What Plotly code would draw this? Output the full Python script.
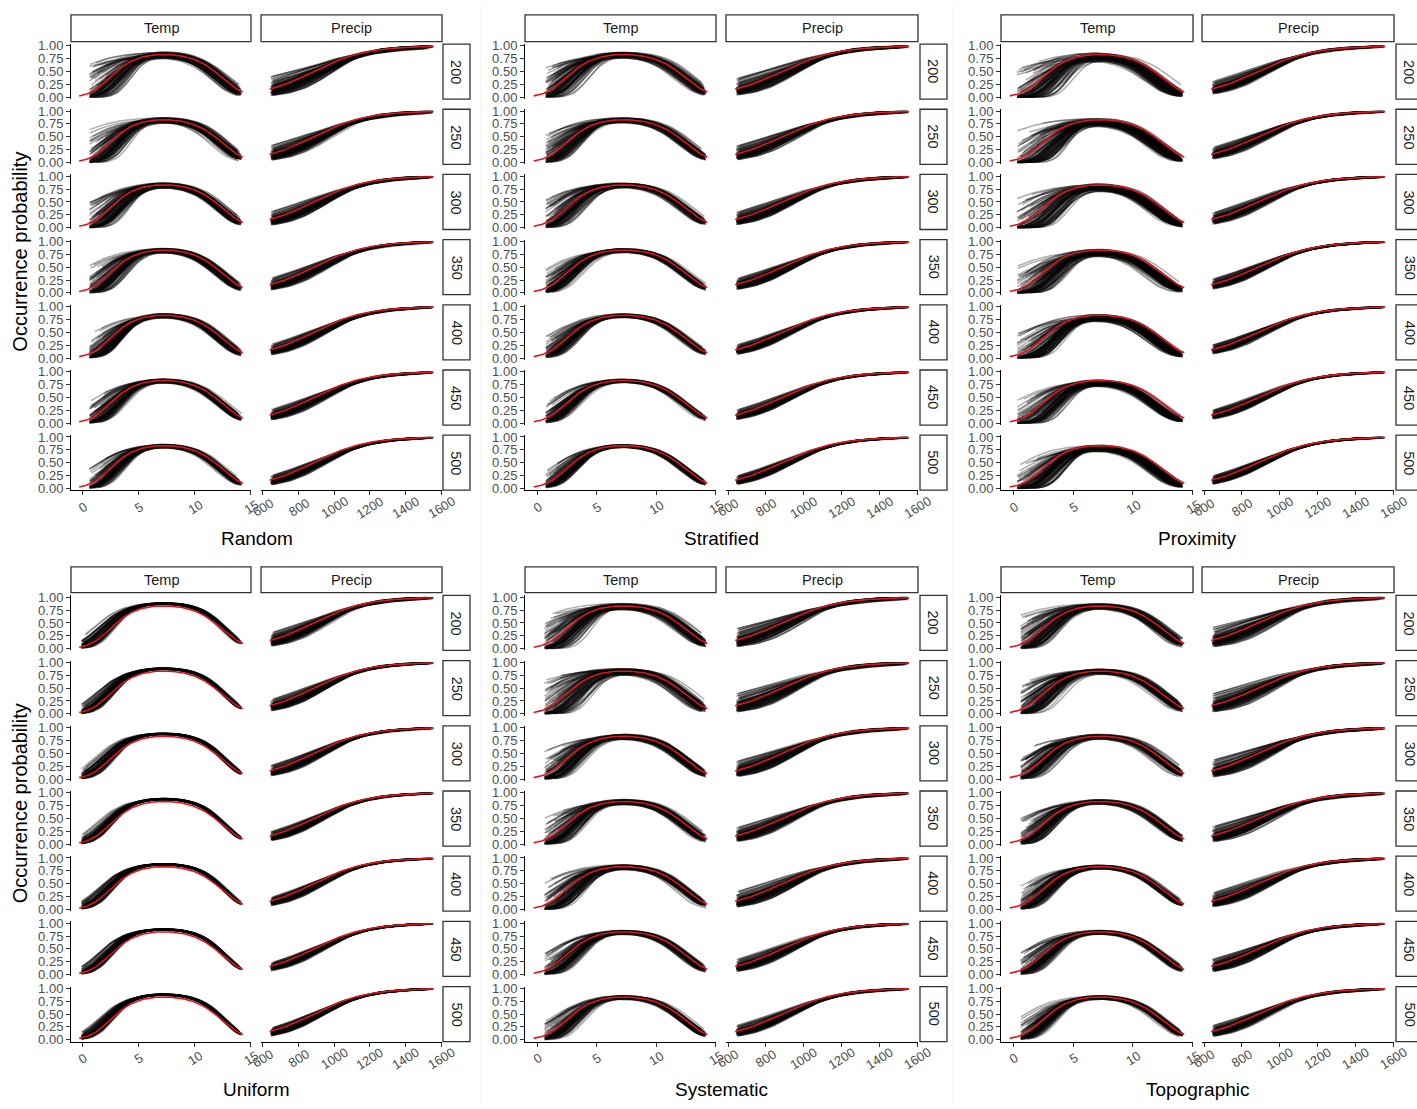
import numpy as np
import plotly.graph_objects as go

W, H = 1417, 1109

# ---------------------------------------------------------------- data
DESIGNS = ["Random", "Stratified", "Proximity", "Uniform", "Systematic", "Topographic"]
SAMPLE_SIZES = [200, 250, 300, 350, 400, 450, 500]
VARIABLES = ["Temp", "Precip"]

TEMP_TICKS = [0, 5, 10, 15]
PRECIP_TICKS = [600, 800, 1000, 1200, 1400, 1600]
PROB_TICKS = [0.0, 0.25, 0.5, 0.75, 1.0]
PROB_LABELS = ["0.00", "0.25", "0.50", "0.75", "1.00"]

# true response curves (logit scale parameters)
TRUE_TEMP_PEAK = 1.6
TRUE_TEMP_OPT = 7.2
TRUE_TEMP_CURV_LEFT = 0.092
TRUE_TEMP_CURV_RIGHT = 0.075
TRUE_TEMP_SPAN = [-0.3, 14.3]
TRUE_PRECIP_BASE = -1.68
TRUE_PRECIP_SLOPE = 0.0068
TRUE_PRECIP_SPAN = [637, 1557]

# spread of the fitted curves, per design (rows) and sample size (columns)
TEMP_SPREAD = [
    [1.00, 0.85, 0.80, 0.70, 0.65, 0.60, 0.55],
    [0.90, 0.75, 0.70, 0.60, 0.55, 0.50, 0.45],
    [1.15, 1.05, 1.00, 0.95, 0.90, 0.85, 0.85],
    [0.32, 0.30, 0.28, 0.26, 0.25, 0.24, 0.23],
    [0.95, 1.00, 0.80, 0.80, 0.75, 0.60, 0.55],
    [0.85, 0.80, 0.75, 0.70, 0.60, 0.60, 0.55],
]
PRECIP_SPREAD = [
    [0.70, 0.55, 0.50, 0.45, 0.40, 0.40, 0.35],
    [0.60, 0.50, 0.45, 0.40, 0.35, 0.35, 0.32],
    [0.45, 0.42, 0.40, 0.35, 0.32, 0.32, 0.30],
    [0.50, 0.42, 0.40, 0.35, 0.32, 0.30, 0.30],
    [0.65, 0.65, 0.55, 0.50, 0.55, 0.45, 0.40],
    [0.70, 0.65, 0.60, 0.55, 0.50, 0.45, 0.40],
]

# systematic shifts of the fitted curves per design
TEMP_PEAK_SHIFT = [-0.05, -0.05, -0.30, 0.38, -0.05, -0.05]
TEMP_OPT_SHIFT = [0.0, 0.0, -0.15, 0.0, 0.05, 0.0]
TEMP_LEFT_SHIFT = [0.20, 0.15, 0.35, 0.10, 0.20, 0.15]
TEMP_RIGHT_SHIFT = [0.05, 0.03, 0.10, 0.10, 0.05, 0.03]
TEMP_START_MIN = [0.6, 0.7, 0.3, -0.1, 0.6, 0.6]
TEMP_START_SPAN = [1.5, 1.1, 2.2, 0.4, 1.6, 1.3]
PRECIP_BASE_SHIFT = [-0.25, -0.20, -0.15, -0.25, -0.20, -0.20]
PRECIP_SLOPE_SHIFT = [0.0, 0.0, 0.0, 0.02, 0.0, 0.0]

# per-curve standardised offsets of the replicate fits
CURVE_OFFSETS = [0.31, -1.12, 0.74, -0.46, 1.58, -0.08, -0.87, 0.52, -1.66, 0.19,
                 1.05, -0.29, -0.61, 0.93, 0.02, -2.05, 0.44, 1.27, -0.38, -0.15,
                 0.66, -0.97, 1.86, -0.52, 0.09, -1.34, 0.27, 0.81, -0.72, -0.21,
                 1.41, -0.04, -1.48, 0.58, 0.15, -0.83, 2.12, -0.33, 0.37, -0.59]
CURVE_RANGE_POS = [0.42, 0.07, 0.88, 0.25, 0.63, 0.14, 0.97, 0.36, 0.71, 0.02,
                   0.55, 0.19, 0.81, 0.47, 0.30, 0.93, 0.11, 0.66, 0.39, 0.75,
                   0.05, 0.58, 0.22, 0.84, 0.33, 0.69, 0.16, 0.91, 0.44, 0.27,
                   0.78, 0.09, 0.61, 0.35, 0.99, 0.20, 0.52, 0.73, 0.12, 0.86]
N_CURVES = 108

# ---------------------------------------------------------------- geometry
TEMP_COLS = [(71, 251), (525, 716), (1001, 1193)]
PRECIP_COLS = [(261, 442), (726, 918), (1202, 1394)]
STRIP_COLS = [(443, 470), (920, 947), (1396, 1423)]
ROW_TOP = [40.3, 597.7]       # y of p = 1 in the first row of each half
ROW_STEP = 65.9
ROW_UNIT = 52.0
HEADER_Y = [(9, 36), (567, 593)]
TITLE_Y = [538, 1095]
YRANGE = [-0.035, 1.035]
TEMP_RANGE = [-1.03, 15.03]
PRECIP_RANGE = [589, 1604]

GRAY_GROUPS = 12
N = len(CURVE_OFFSETS)
FONT = "Liberation Sans, Arial, sans-serif"


def px(x):
    return x / W


def py(y):
    return 1 - y / H


def inv_logit(z):
    return 1.0 / (1.0 + np.exp(-z))


def temp_curve(x, peak, opt, cl, cr):
    u = x - opt
    c = np.where(u < 0, cl, cr)
    return inv_logit(peak - c * u * u)


def precip_curve(x, base, slope, tilt):
    d = x - TRUE_PRECIP_SPAN[0]
    return inv_logit(base + tilt * (1 - d / 520.0) + slope * d)


def offset(k, mult, shift, s, step):
    return CURVE_OFFSETS[(mult * k + shift + step * s + 7 * (k // N) * (mult % 5 + 1)) % N]


def range_pos(k, mult, shift, s, step):
    return CURVE_RANGE_POS[(mult * k + shift + step * s + 3 * (k // N)) % N]


fig = go.Figure()
layout = {}
annotations = []
shapes = []

tick_font = dict(family=FONT, size=13, color="#4d4d4d")
strip_font = dict(family=FONT, size=14.5, color="#1a1a1a")
axis_idx = 0

for d, design in enumerate(DESIGNS):
    half, col = divmod(d, 3)
    for r, n in enumerate(SAMPLE_SIZES):
        p1 = ROW_TOP[half] + r * ROW_STEP
        p0 = p1 + ROW_UNIT
        pad = (YRANGE[1] - 1) * ROW_UNIT
        ydom = [py(p0 + pad), py(p1 - pad)]
        s = d * 7 + r
        bottom = r == len(SAMPLE_SIZES) - 1
        for v, var in enumerate(VARIABLES):
            axis_idx += 1
            xa = "x" if axis_idx == 1 else f"x{axis_idx}"
            ya = "y" if axis_idx == 1 else f"y{axis_idx}"
            xcols = TEMP_COLS[col] if v == 0 else PRECIP_COLS[col]
            xr = TEMP_RANGE if v == 0 else PRECIP_RANGE
            xt = TEMP_TICKS if v == 0 else PRECIP_TICKS

            # replicate fits, grouped in a few semi-transparent layers
            groups = [([], []) for _ in range(GRAY_GROUPS)]
            for k in range(N_CURVES):
                if v == 0:
                    sig = TEMP_SPREAD[d][r]
                    z_h = offset(k, 1, 0, s, 3)
                    z_m = offset(k, 7, 1, s, 5)
                    z_l = offset(k, 11, 4, s, 2)
                    z_r = offset(k, 13, 2, s, 9)
                    a = range_pos(k, 1, 0, s, 7)
                    b = range_pos(k, 17, 5, s, 3)
                    left = sig * (0.75 * z_l if z_l < 0 else 0.3 * z_l)
                    x0 = TEMP_START_MIN[d] + TEMP_START_SPAN[d] * a * a
                    x1 = 13.7 + 0.5 * b
                    xs = np.linspace(x0, x1, 45)
                    ys = temp_curve(
                        xs,
                        TRUE_TEMP_PEAK + TEMP_PEAK_SHIFT[d] + sig * 0.2 * z_h,
                        TRUE_TEMP_OPT + TEMP_OPT_SHIFT[d] + sig * 0.25 * z_m,
                        TRUE_TEMP_CURV_LEFT * np.exp(TEMP_LEFT_SHIFT[d] + left),
                        TRUE_TEMP_CURV_RIGHT * np.exp(TEMP_RIGHT_SHIFT[d] + sig * 0.1 * z_r),
                    )
                else:
                    sig = PRECIP_SPREAD[d][r]
                    z_a = offset(k, 19, 3, s, 4)
                    z_b = offset(k, 23, 7, s, 6)
                    a = range_pos(k, 3, 0, s, 1)
                    b = range_pos(k, 9, 1, s, 2)
                    x0 = 642 + 20 * a
                    x1 = 1495 + 60 * b
                    xs = np.linspace(x0, x1, 40)
                    ys = precip_curve(
                        xs,
                        TRUE_PRECIP_BASE + PRECIP_BASE_SHIFT[d],
                        TRUE_PRECIP_SLOPE * (1 + PRECIP_SLOPE_SHIFT[d] + sig * 0.05 * z_b),
                        sig * z_a,
                    )
                gx, gy = groups[k % GRAY_GROUPS]
                gx.extend(xs.tolist() + [None])
                gy.extend(ys.tolist() + [None])
            for gx, gy in groups:
                fig.add_trace(go.Scatter(
                    x=gx, y=gy, xaxis=xa, yaxis=ya, mode="lines",
                    line=dict(color="black", width=1.5), opacity=0.32,
                    hoverinfo="skip", showlegend=False))

            # true response
            if v == 0:
                xs = np.linspace(TRUE_TEMP_SPAN[0], TRUE_TEMP_SPAN[1], 90)
                ys = temp_curve(xs, TRUE_TEMP_PEAK, TRUE_TEMP_OPT,
                                TRUE_TEMP_CURV_LEFT, TRUE_TEMP_CURV_RIGHT)
            else:
                xs = np.linspace(TRUE_PRECIP_SPAN[0], TRUE_PRECIP_SPAN[1], 90)
                ys = precip_curve(xs, TRUE_PRECIP_BASE, TRUE_PRECIP_SLOPE, 0.0)
            fig.add_trace(go.Scatter(
                x=xs, y=ys, xaxis=xa, yaxis=ya, mode="lines",
                line=dict(color="#e3131b", width=1.6),
                hoverinfo="skip", showlegend=False))

            key = "" if axis_idx == 1 else str(axis_idx)
            layout[f"xaxis{key}"] = dict(
                domain=[px(xcols[0]), px(xcols[1])], range=xr, anchor=ya,
                showgrid=False, zeroline=False, showline=bottom,
                linecolor="black", linewidth=1,
                ticks="outside" if bottom else "", ticklen=4, tickcolor="#333333",
                tickvals=xt, showticklabels=False, fixedrange=True)
            layout[f"yaxis{key}"] = dict(
                domain=ydom, range=YRANGE, anchor=xa,
                showgrid=False, zeroline=False, showline=(v == 0),
                linecolor="black", linewidth=1,
                ticks="outside" if v == 0 else "", ticklen=4, tickcolor="#333333",
                tickvals=PROB_TICKS, ticktext=PROB_LABELS,
                showticklabels=(v == 0), tickfont=tick_font, fixedrange=True)

            if bottom:
                label_y = py(p0 + pad + 17)
                for t in xt:
                    annotations.append(dict(
                        x=t, y=label_y, xref=xa, yref="paper", text=str(t),
                        showarrow=False, textangle=-32, font=tick_font,
                        xanchor="center", yanchor="middle"))

        # sample-size strip on the right
        sx0, sx1 = STRIP_COLS[col]
        shapes.append(dict(type="rect", xref="paper", yref="paper",
                           x0=px(sx0), x1=px(sx1), y0=ydom[0], y1=ydom[1],
                           line=dict(color="#333333", width=1.3), fillcolor="white"))
        annotations.append(dict(x=px((sx0 + sx1) / 2), y=(ydom[0] + ydom[1]) / 2,
                                xref="paper", yref="paper", text=str(n),
                                showarrow=False, textangle=90, font=strip_font,
                                xanchor="center", yanchor="middle"))

    # variable strips on top
    hy0, hy1 = HEADER_Y[half]
    for v, var in enumerate(VARIABLES):
        xcols = TEMP_COLS[col] if v == 0 else PRECIP_COLS[col]
        shapes.append(dict(type="rect", xref="paper", yref="paper",
                           x0=px(xcols[0]), x1=px(xcols[1]), y0=py(hy1), y1=py(hy0),
                           line=dict(color="#333333", width=1.3), fillcolor="white"))
        annotations.append(dict(x=px((xcols[0] + xcols[1]) / 2), y=py((hy0 + hy1) / 2),
                                xref="paper", yref="paper", text=var, showarrow=False,
                                font=strip_font, xanchor="center", yanchor="middle"))

    # design title under each block
    annotations.append(dict(x=px((TEMP_COLS[col][0] + PRECIP_COLS[col][1]) / 2),
                            y=py(TITLE_Y[half]), xref="paper", yref="paper",
                            text=design, showarrow=False,
                            xanchor="center", yanchor="middle",
                            font=dict(family=FONT, size=19, color="black")))

# y-axis titles on the left
for half in range(2):
    top = HEADER_Y[half][0]
    bot = ROW_TOP[half] + 6 * ROW_STEP + ROW_UNIT
    annotations.append(dict(x=px(20), y=py((top + bot) / 2), xref="paper", yref="paper",
                            text="Occurrence probability", showarrow=False, textangle=-90,
                            xanchor="center", yanchor="middle",
                            font=dict(family=FONT, size=20, color="black")))

# faint separators between the blocks
for sx in (481, 953):
    shapes.append(dict(type="line", xref="paper", yref="paper", x0=px(sx), x1=px(sx),
                       y0=0, y1=1, line=dict(color="#eeeeee", width=1), layer="below"))

fig.update_layout(
    width=W, height=H, margin=dict(l=0, r=0, t=0, b=0),
    paper_bgcolor="white", plot_bgcolor="white", showlegend=False,
    annotations=annotations, shapes=shapes, **layout)

fig.write_html("out.html")
